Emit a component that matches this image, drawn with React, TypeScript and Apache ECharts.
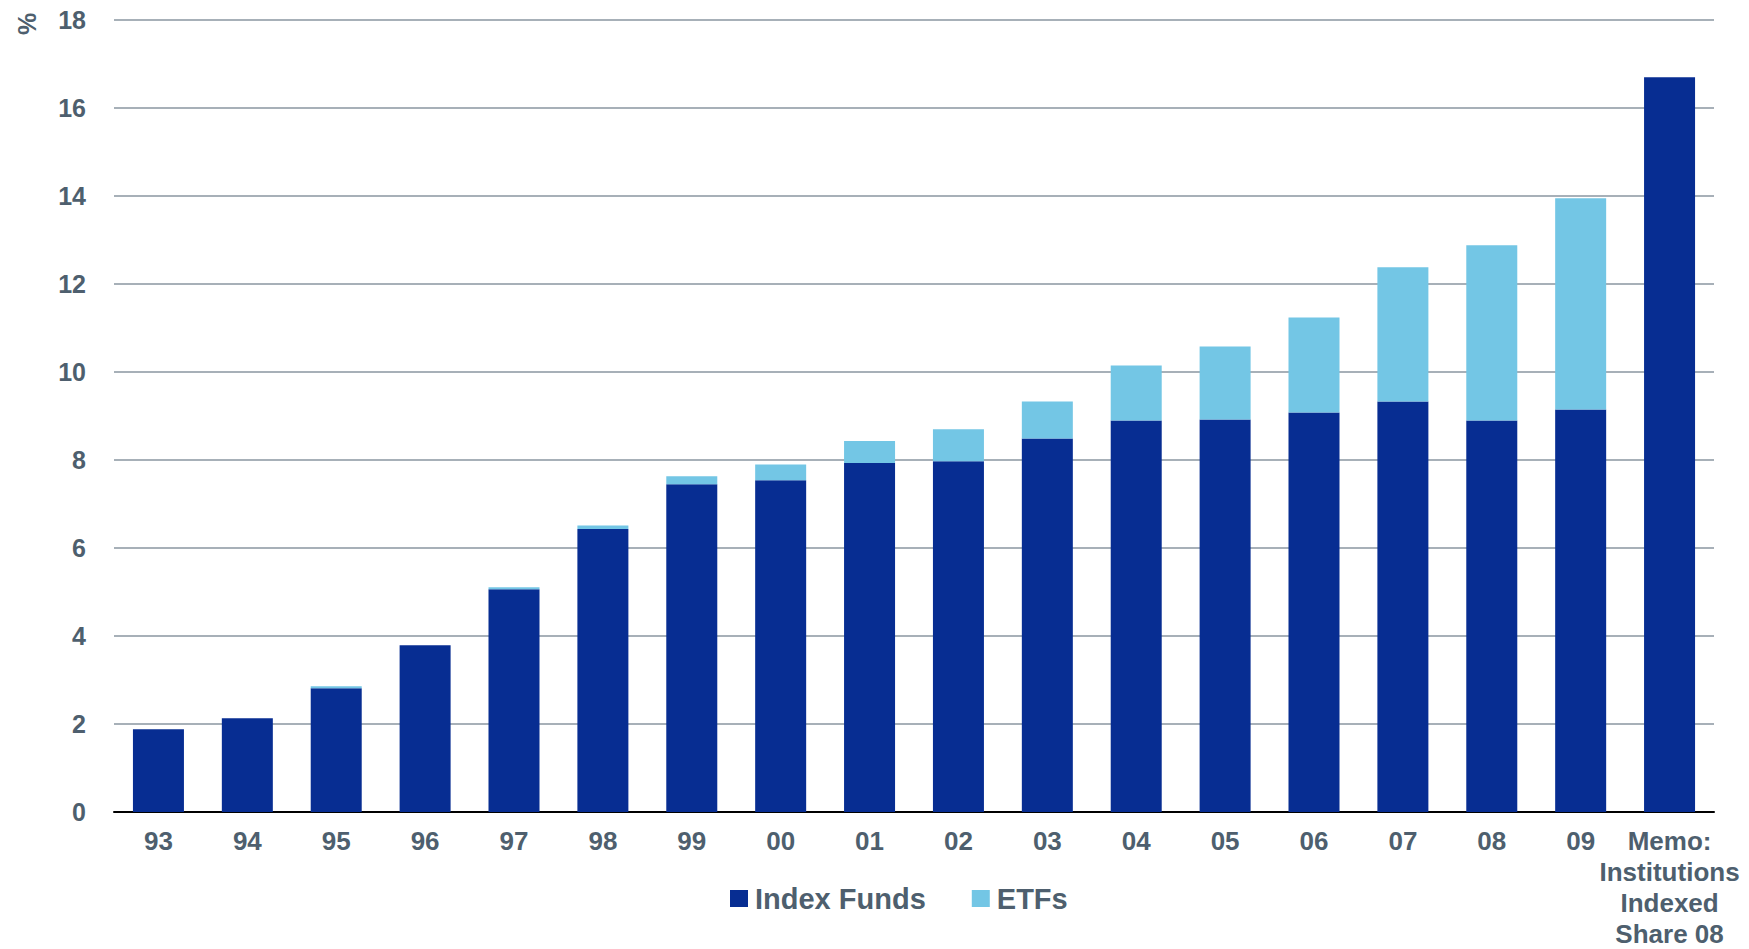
import React, { useEffect, useRef } from "react";
import * as echarts from "echarts";

// Share of equity fund assets held in index funds and ETFs, by year (%)
const categories = [
  "93", "94", "95", "96", "97", "98", "99", "00", "01", "02",
  "03", "04", "05", "06", "07", "08", "09", "Memo:\nInstitutions\nIndexed\nShare 08",
];
const indexFunds = [
  1.88, 2.13, 2.81, 3.79, 5.06, 6.43, 7.45, 7.54, 7.93, 7.97,
  8.49, 8.9, 8.92, 9.08, 9.33, 8.9, 9.15, 16.7,
];
const etfs = [
  0, 0, 0.05, 0, 0.05, 0.08, 0.18, 0.36, 0.5, 0.73,
  0.84, 1.25, 1.66, 2.16, 3.05, 3.98, 4.8, 0,
];
const yTicks = { min: 0, max: 18, interval: 2 };

const DARK = "#072d92";
const LIGHT = "#73c6e5";
const TEXT = "#4e5f6e";
const FONT = "'Liberation Sans', Arial, sans-serif";

export default function App() {
  const ref = useRef<HTMLDivElement>(null);

  useEffect(() => {
    if (!ref.current) return;
    const chart = echarts.init(ref.current, null, { renderer: "svg" });
    chart.setOption({
      animation: false,
      backgroundColor: "#ffffff",
      textStyle: { fontFamily: FONT },
      grid: {
        left: 114,
        width: 1600,
        top: 20,
        height: 792,
        containLabel: false,
        outerBoundsMode: "none",
      },
      legend: {
        left: 730,
        top: 884,
        padding: 0,
        itemWidth: 18,
        itemHeight: 17,
        itemGap: 46,
        icon: "rect",
        textStyle: {
          fontFamily: FONT,
          fontSize: 29,
          fontWeight: "bold",
          color: TEXT,
          padding: [0, 0, 0, 2],
        },
        data: ["Index Funds", "ETFs"],
      },
      xAxis: {
        type: "category",
        data: categories,
        axisLine: { show: true, lineStyle: { color: "#000000", width: 2 } },
        axisTick: { show: false },
        axisLabel: {
          interval: 0,
          margin: 13,
          fontFamily: FONT,
          fontSize: 26,
          fontWeight: "bold",
          lineHeight: 31,
          color: TEXT,
        },
      },
      yAxis: {
        type: "value",
        min: yTicks.min,
        max: yTicks.max,
        interval: yTicks.interval,
        axisLine: { show: false },
        axisTick: { show: false },
        axisLabel: {
          margin: 28,
          fontFamily: FONT,
          fontSize: 25,
          fontWeight: "bold",
          color: TEXT,
        },
        splitLine: { show: true, lineStyle: { color: "#a7b0b8", width: 2 } },
      },
      series: [
        {
          name: "Index Funds",
          type: "bar",
          stack: "share",
          barWidth: 51,
          itemStyle: { color: DARK },
          data: indexFunds,
        },
        {
          name: "ETFs",
          type: "bar",
          stack: "share",
          barWidth: 51,
          itemStyle: { color: LIGHT },
          data: etfs,
        },
      ],
      graphic: [
        {
          type: "text",
          x: 27,
          y: 24,
          rotation: Math.PI / 2,
          style: {
            text: "%",
            fontFamily: FONT,
            fontSize: 25,
            fontWeight: "bold",
            fill: TEXT,
            align: "center",
            verticalAlign: "middle",
          },
        },
      ],
    });
    return () => chart.dispose();
  }, []);

  return (
    <div
      ref={ref}
      style={{ position: "fixed", left: 0, top: 0, width: 1749, height: 949 }}
    />
  );
}
